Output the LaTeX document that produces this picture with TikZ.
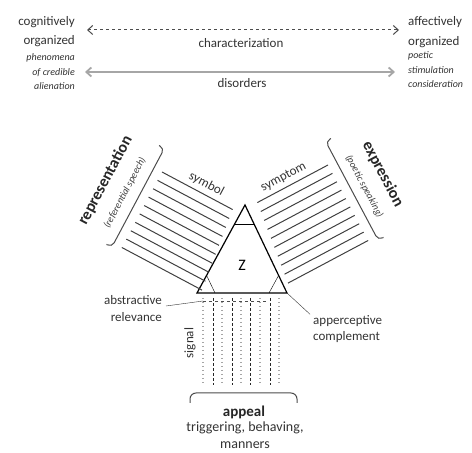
\documentclass[tikz,border=0pt]{standalone}
\usepackage{fontspec}
\setmainfont{Carlito}
\usetikzlibrary{arrows.meta,calc}

\begin{document}
\begin{tikzpicture}[x=1pt,y=1pt,
    lbl/.style={font=\fontsize{13}{19.5}\selectfont,text=black!80,inner sep=1pt},
    sml/.style={font=\fontsize{10}{14.5}\selectfont\itshape,text=black!80,inner sep=1pt},
    bld/.style={font=\fontsize{16}{16}\selectfont\bfseries,text=black!85,inner sep=1pt},
    sub/.style={font=\fontsize{10}{10}\selectfont\itshape,text=black!75,inner sep=1pt},
    hatch/.style={black!75,line width=1pt},
    brace/.style={black!70,line width=1pt,rounded corners=5pt},
    twoway/.style={{Straight Barb[length=5pt,width=9pt]}-{Straight Barb[length=5pt,width=9pt]},line width=1pt},
    sigdot/.style={black!35,line width=1.2pt,dash pattern=on 1.5pt off 2.5pt},
    sigdash/.style={black!85,line width=1pt,dash pattern=on 3pt off 2pt}]
\useasboundingbox (0,0) rectangle (472,453);

% oben: zwei Achsen
\node[lbl,align=right,anchor=east] (cog) at (76,421.5) {cognitively\\organized};
\node[lbl,align=left,anchor=west] (aff) at (407,421) {affectively\\organized};
\node[sml,align=right,anchor=east] (phen) at (76,381) {phenomena\\of credible\\alienation};
\node[sml,align=left,anchor=west] (poet) at (407,383) {poetic\\stimulation\\consideration};
\coordinate (c1) at (87,423);
\coordinate (c2) at (399,423);
\coordinate (d1) at (85,381);
\coordinate (d2) at (395,381);
\draw[twoway,dashed,black!70] (c1) -- (c2);
\draw[twoway,black!35,line width=1.8pt] (d1) -- (d2);
\node[lbl] (char) at (241,410) {characterization};
\node[lbl] (dis) at (242,370) {disorders};

% Dreieck
\coordinate (tl) at (197,160);
\coordinate (tr) at (287,160);
\coordinate (tt) at (245,248);
\draw[line width=1.2pt] (tl) -- (tr) -- (tt) -- cycle;
\draw[thin] ($(tl)!0.2!(tt)$) -- ($(tl)!0.2!(tr)$);
\draw[thin] ($(tr)!0.2!(tt)$) -- ($(tr)!0.2!(tl)$);
\draw[thin] ($(tt)!0.22!(tl)$) -- ($(tt)!0.22!(tr)$);
\node[font=\fontsize{16}{16}\selectfont] (z) at (242,188) {Z};

% links: Symbol
\begin{scope}[shift={(162,281)},rotate=-28]
  \foreach \i in {0,...,9}
    \draw[hatch] (0,-9.5*\i) -- (80+1.2*\i,-9.5*\i);
  \draw[brace] (-15,22) -- (-9,22) -- (-9,-90) -- (-15,-90);
  \node[lbl,rotate=-28] (sym) at (45,10) {symbol};
  \node[bld,rotate=62] (rep) at (-46,-34) {representation};
  \node[sub,rotate=62] (repsub) at (-23,-36) {(referential speech)};
\end{scope}

% rechts: Symptom
\begin{scope}[shift={(328,288)},rotate=28]
  \foreach \i in {0,...,9}
    \draw[hatch] (0,-9.5*\i) -- (-80-1.2*\i,-9.5*\i);
  \draw[brace] (15,22) -- (9,22) -- (9,-90) -- (15,-90);
  \node[lbl,rotate=28] (symp) at (-45,10) {symptom};
  \node[bld,rotate=-62] (expr) at (44,-34) {expression};
  \node[sub,rotate=-62] (exprsub) at (22,-36) {(poetic speaking)};
\end{scope}

% unten: Signal
\foreach \x in {203,222,241,260,279}
  \draw[sigdot] (\x,155) -- (\x,68);
\foreach \x in {213,232,250,270}
  \draw[sigdash] (\x,155) -- (\x,68);
\draw[black!70,dashed] (203,152) -- (268,152);
\node[lbl,rotate=90] (sig) at (190,110) {signal};
\draw[brace,rounded corners=6pt] (190,50) -- (190,60) -- (297,60) -- (297,50);
\node[bld,font=\fontsize{15}{15}\selectfont\bfseries] (app) at (244,41) {appeal};
\node[lbl,align=center,font=\fontsize{14}{17}\selectfont] (trig) at (245,18) {triggering, behaving,\\manners};

% Beschriftungen am Dreieck
\node[lbl,align=right,anchor=east,font=\fontsize{13}{17}\selectfont] (abst) at (163,144) {abstractive\\relevance};
\node[lbl,align=left,anchor=west,font=\fontsize{13}{16}\selectfont] (appc) at (312,124) {apperceptive\\complement};
\coordinate (absp) at (203,152);
\draw[black!80] ([shift={(3pt,3pt)}]abst.east) -- (absp);
\draw[black!80] (tr) -- ([xshift=-2pt]appc.north west);
\end{tikzpicture}
\end{document}
